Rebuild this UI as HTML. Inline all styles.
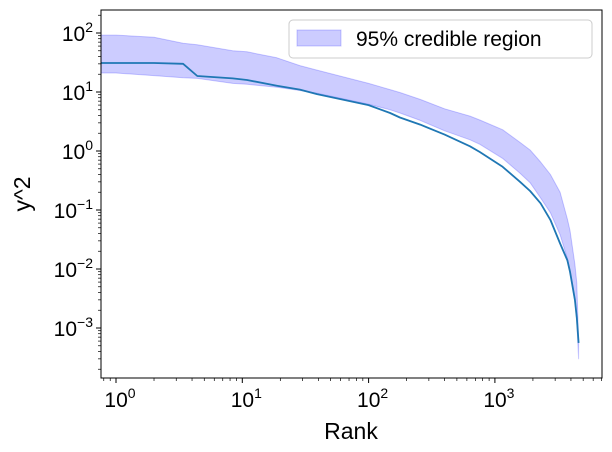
<!DOCTYPE html>
<html><head><meta charset="utf-8"><style>
body{margin:0;background:#fff;}
svg{display:block;font-family:"Liberation Sans","DejaVu Sans",sans-serif;}
</style></head><body>
<svg id="chart" width="612" height="452" viewBox="0 0 612 452">
<g id="plot"></g>
</svg>
<script>
const ranks = [0.76, 1, 2, 3.4, 4.4, 8.4, 10.9, 18.8, 28.6, 39, 100, 148, 177, 256, 400, 635, 760, 1150, 1580, 1900, 2300, 2750, 3280, 3750, 3930, 4300, 4450, 4600];
const lineVals = [31, 31, 31, 30, 18.7, 17, 16, 12.8, 11, 9.2, 6, 4.4, 3.7, 2.8, 1.9, 1.2, 0.96, 0.54, 0.3, 0.21, 0.13, 0.068, 0.027, 0.014, 0.009, 0.003, 0.0015, 0.00056];
const upperVals = [92, 92, 85, 67, 63, 50, 48, 38, 28, 23.5, 14, 11, 9.8, 7.5, 5.2, 3.9, 3.35, 2.3, 1.4, 1.04, 0.65, 0.4, 0.2, 0.07, 0.045, 0.012, 0.0058, 0.0006];
const lowerVals = [21, 21, 19, 17.5, 17, 14, 13.5, 12, 10.6, 9.5, 6.2, 5, 4.4, 3.3, 2.2, 1.55, 1.3, 0.75, 0.42, 0.29, 0.16, 0.09, 0.038, 0.015, 0.009, 0.0028, 0.0013, 0.0003];
const xTicks = [0, 1, 2, 3];
const yTicks = [2, 1, 0, -1, -2, -3];

const L = 101, R = 602, T = 10, B = 378;
const X0 = 116, XD = 126.3, Y0 = 151, YD = 59;
const xs = v => Math.max(L, X0 + Math.log10(v) * XD);
const ys = v => Y0 - Math.log10(v) * YD;
const NS = "http://www.w3.org/2000/svg";
const svg = document.getElementById('chart');
const plot = document.getElementById('plot');
function mk(tag, attrs, parent){const e=document.createElementNS(NS,tag);for(const k in attrs)e.setAttribute(k,attrs[k]);(parent||svg).appendChild(e);return e;}

let d = ranks.map((r,i)=>(i?'L':'M')+xs(r).toFixed(1)+','+ys(upperVals[i]).toFixed(1)).join(' ');
for(let i=ranks.length-1;i>=0;i--) d += ' L'+xs(ranks[i]).toFixed(1)+','+ys(lowerVals[i]).toFixed(1);
const band = mk('path',{d:d+' Z',fill:'rgba(0,0,255,0.2)',stroke:'rgba(0,0,255,0.2)','stroke-width':1,'stroke-linejoin':'round'},plot);



const ld = ranks.map((r,i)=>(i?'L':'M')+xs(r).toFixed(1)+','+ys(lineVals[i]).toFixed(1)).join(' ');
const line = mk('path',{d:ld,fill:'none',stroke:'#1f77b4','stroke-width':1.8,'stroke-linejoin':'round'},plot);



const frame = mk('rect',{x:L,y:T,width:R-L,height:B-T,fill:'none',stroke:'#000','stroke-width':1});



for(let p=-1;p<=3;p++){
  for(let m=1;m<10;m++){
    const x = X0 + (p+Math.log10(m))*XD;
    if(x<L||x>R) continue;
    mk('line',{x1:x,x2:x,y1:B,y2:B+(m===1?5:3),stroke:'#000','stroke-width':m===1?1:0.7});
  }
}
xTicks.forEach(p=>{
  const t = mk('text',{x:X0+p*XD+4,y:B+29,'font-size':21,'text-anchor':'middle'});
  t.innerHTML = '10<tspan dy="-9" font-size="14">'+p+'</tspan>';
  
  
});
for(let p=-4;p<=2;p++){
  for(let m=1;m<10;m++){
    const y = Y0 - (p+Math.log10(m))*YD;
    if(y<T||y>B) continue;
    mk('line',{x1:L-(m===1?5:3),x2:L,y1:y,y2:y,stroke:'#000','stroke-width':m===1?1:0.7});
  }
}
yTicks.forEach(p=>{
  const t = mk('text',{x:L-8,y:Y0-p*YD+8,'font-size':21,'text-anchor':'end'});
  t.innerHTML = '10<tspan dy="-9" font-size="14">'+(p<0?'\u2212'+(-p):p)+'</tspan>';
  
  
});

const xl = mk('text',{x:351,y:439,'font-size':23,'text-anchor':'middle'}); xl.textContent='Rank';


const yl = mk('text',{x:30,y:194,'font-size':23,'text-anchor':'middle',transform:'rotate(-90 30 194)'}); yl.textContent='y^2';



const lg = mk('g',{});


mk('rect',{x:289,y:20,width:303,height:38,rx:4,fill:'#fff','fill-opacity':0.8,stroke:'#ccc'},lg);
const sw = mk('rect',{x:297,y:30,width:44,height:16,fill:'rgba(0,0,255,0.2)',stroke:'rgba(0,0,255,0.2)'},lg);


const lt = mk('text',{x:356,y:46,'font-size':21},lg); lt.textContent='95% credible region';


</script>
</body></html>
